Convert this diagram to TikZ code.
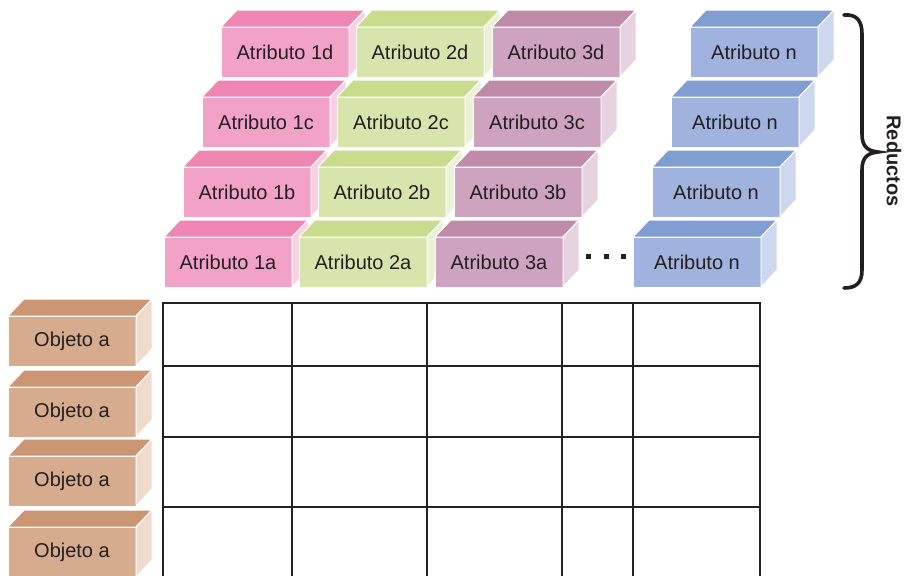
\documentclass[tikz,border=0pt]{standalone}
\usepackage{fontspec}
\setmainfont{Liberation Sans}
\definecolor{txt}{HTML}{231F20}
\definecolor{pinkF}{HTML}{F2A2C6}\definecolor{pinkT}{HTML}{EF86B1}\definecolor{pinkS}{HTML}{F8D0E2}
\definecolor{greenF}{HTML}{D7E5AD}\definecolor{greenT}{HTML}{C9DC8D}\definecolor{greenS}{HTML}{EAF2D6}
\definecolor{purpF}{HTML}{CDA3BF}\definecolor{purpT}{HTML}{C08AA9}\definecolor{purpS}{HTML}{E7D2DF}
\definecolor{blueF}{HTML}{A0B3DE}\definecolor{blueT}{HTML}{809ED2}\definecolor{blueS}{HTML}{CDD7EE}
\definecolor{tanF}{HTML}{D7AB8E}\definecolor{tanT}{HTML}{CC9574}\definecolor{tanS}{HTML}{EFDACC}
\definecolor{gridc}{HTML}{222222}
\tikzset{
  face/.style={draw=white, line width=1pt, line join=round},
  frontface/.style={face, minimum width=128pt, minimum height=50pt, inner sep=0pt, outer sep=0pt,
    text=txt, font=\fontsize{20}{24}\selectfont},
  gridline/.style={draw=gridc, line width=2pt},
  outerline/.style={draw=gridc, line width=2.5pt},
}
% name, x, y, front, top, side, text
\newcommand\cubox[7]{%
  \node[frontface, fill=#4, anchor=north west] (#1) at (#2,#3) {#7};
  \path[face, fill=#5] (#1.north west) -- ++(16,-17) -- ++(128,0) -- (#1.north east) -- cycle;
  \path[face, fill=#6] (#1.north east) -- ++(16,-17) -- ++(0,50) -- (#1.south east) -- cycle;
}
\begin{document}
\begin{tikzpicture}[x=1pt,y=-1pt]
\clip (0,0) rectangle (906,576);
\fill[white] (0,0) rectangle (906,576);
% row d
\cubox{a1d}{221}{27}{pinkF}{pinkT}{pinkS}{Atributo 1d}
\cubox{a2d}{356}{27}{greenF}{greenT}{greenS}{Atributo 2d}
\cubox{a3d}{492}{27}{purpF}{purpT}{purpS}{Atributo 3d}
\cubox{and}{690}{27}{blueF}{blueT}{blueS}{Atributo n}
% row c
\cubox{a1c}{202}{97}{pinkF}{pinkT}{pinkS}{Atributo 1c}
\cubox{a2c}{337}{97}{greenF}{greenT}{greenS}{Atributo 2c}
\cubox{a3c}{473}{97}{purpF}{purpT}{purpS}{Atributo 3c}
\cubox{anc}{671}{97}{blueF}{blueT}{blueS}{Atributo n}
% row b
\cubox{a1b}{183}{167}{pinkF}{pinkT}{pinkS}{Atributo 1b}
\cubox{a2b}{318}{167}{greenF}{greenT}{greenS}{Atributo 2b}
\cubox{a3b}{454}{167}{purpF}{purpT}{purpS}{Atributo 3b}
\cubox{anb}{652}{167}{blueF}{blueT}{blueS}{Atributo n}
% row a
\cubox{a1a}{164}{237}{pinkF}{pinkT}{pinkS}{Atributo 1a}
\cubox{a2a}{299}{237}{greenF}{greenT}{greenS}{Atributo 2a}
\cubox{a3a}{435}{237}{purpF}{purpT}{purpS}{Atributo 3a}
\cubox{ana}{633}{237}{blueF}{blueT}{blueS}{Atributo n}
% dots
\foreach \dx in {588,606,623} \fill[txt] (\dx-2.5,253.5) rectangle (\dx+2.5,258.5);
% objects
\cubox{o1}{8}{316}{tanF}{tanT}{tanS}{Objeto a}
\cubox{o2}{8}{387}{tanF}{tanT}{tanS}{Objeto a}
\cubox{o3}{8}{456}{tanF}{tanT}{tanS}{Objeto a}
\cubox{o4}{8}{527}{tanF}{tanT}{tanS}{Objeto a}
% grid
\foreach \gy in {366,437,507} \draw[gridline] (163,\gy) -- (760,\gy);
\foreach \gx in {292,427,562,633} \draw[gridline] (\gx,303) -- (\gx,580);
\draw[outerline] (163,580) -- (163,303) -- (760,303) -- (760,580);
% brace
\draw[txt, line width=3.6pt, line cap=round]
  (844,15) .. controls (856,14) and (862,20) .. (862,34) -- (862,134)
  .. controls (862,146) and (867,151) .. (878,152)
  .. controls (867,153) and (862,158) .. (862,170) -- (862,270)
  .. controls (862,283) and (856,288) .. (844,288);
\node[rotate=-90, text=txt, font=\fontsize{20}{24}\selectfont\bfseries] (red) at (894,161) {Reductos};
\end{tikzpicture}
\end{document}
